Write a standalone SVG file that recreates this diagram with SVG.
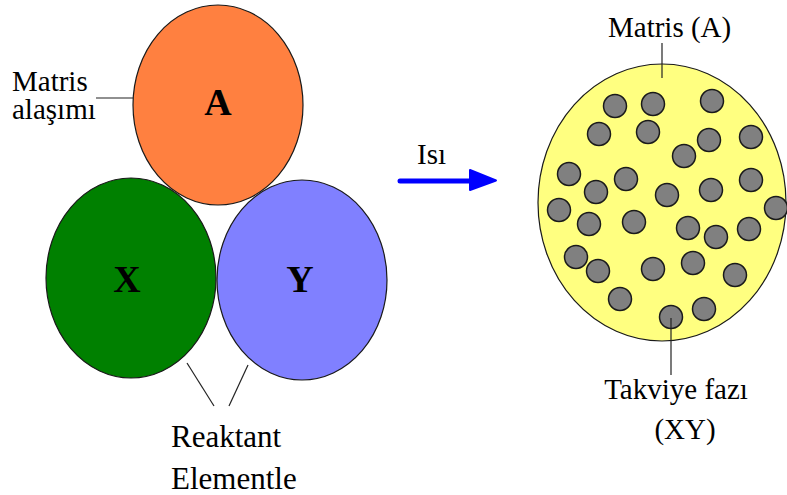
<svg xmlns="http://www.w3.org/2000/svg" width="787" height="495" viewBox="0 0 787 495">
<style>
.blob{stroke:#1a1a1a;stroke-width:1.2}
.lbl{font-family:"Liberation Serif","DejaVu Serif",serif;font-size:29px;fill:#000}
.big{font-family:"Liberation Serif","DejaVu Serif",serif;font-size:38px;font-weight:bold;fill:#000;text-anchor:middle}
.lead{stroke:#222;stroke-width:1.2;fill:none}
.dot{fill:#808080;stroke:#1a1a1a;stroke-width:1.5}
</style>
<rect width="787" height="495" fill="#fff"/>
<g id="node-A">
<ellipse class="blob" cx="218" cy="105" rx="85" ry="100" fill="#FF8040"/>
<text class="big" x="218" y="115">A</text>
</g>
<g id="node-X">
<ellipse class="blob" cx="131" cy="278" rx="85" ry="100" fill="#008000"/>
<text class="big" x="127" y="292">X</text>
</g>
<g id="node-Y">
<ellipse class="blob" cx="302" cy="280" rx="85" ry="100" fill="#8080FF"/>
<text class="big" x="300" y="292">Y</text>
</g>
<g id="label-matris-alasimi">
<text class="lbl" x="12" y="91">Matris</text>
<text class="lbl" x="12" y="119">alaşımı</text>
</g>
<g id="label-reaktant">
<text class="lbl" x="171" y="447" style="font-size:31px">Reaktant</text>
<text class="lbl" x="171" y="489" style="font-size:31px">Elementle</text>
</g>
<g id="node-composite">
<ellipse class="blob" cx="662" cy="202.5" rx="124" ry="138.5" fill="#FFFF80"/>
<g id="particles">
<circle class="dot" cx="615" cy="106" r="11.5"/>
<circle class="dot" cx="653" cy="104" r="11.5"/>
<circle class="dot" cx="712" cy="101" r="11.5"/>
<circle class="dot" cx="599" cy="134" r="11.5"/>
<circle class="dot" cx="648" cy="132" r="11.5"/>
<circle class="dot" cx="709" cy="140" r="11.5"/>
<circle class="dot" cx="751" cy="137" r="11.5"/>
<circle class="dot" cx="684" cy="156" r="11.5"/>
<circle class="dot" cx="569" cy="174" r="11.5"/>
<circle class="dot" cx="626" cy="179" r="11.5"/>
<circle class="dot" cx="596" cy="192" r="11.5"/>
<circle class="dot" cx="667" cy="195" r="11.5"/>
<circle class="dot" cx="711" cy="190" r="11.5"/>
<circle class="dot" cx="751" cy="180" r="11.5"/>
<circle class="dot" cx="776" cy="208" r="11.5"/>
<circle class="dot" cx="559" cy="210" r="11.5"/>
<circle class="dot" cx="589" cy="224" r="11.5"/>
<circle class="dot" cx="634" cy="222" r="11.5"/>
<circle class="dot" cx="688" cy="228" r="11.5"/>
<circle class="dot" cx="716" cy="237" r="11.5"/>
<circle class="dot" cx="749" cy="229" r="11.5"/>
<circle class="dot" cx="576" cy="257" r="11.5"/>
<circle class="dot" cx="598" cy="271" r="11.5"/>
<circle class="dot" cx="653" cy="269" r="11.5"/>
<circle class="dot" cx="693" cy="263" r="11.5"/>
<circle class="dot" cx="735" cy="275" r="11.5"/>
<circle class="dot" cx="620" cy="299" r="11.5"/>
<circle class="dot" cx="671" cy="317" r="11.5"/>
<circle class="dot" cx="704" cy="309" r="11.5"/>
</g>
</g>
<g id="label-matris-a">
<text class="lbl" x="608" y="37">Matris (A)</text>
</g>
<g id="label-takviye">
<text class="lbl" x="676" y="399" text-anchor="middle">Takviye fazı</text>
<text class="lbl" x="685" y="439" text-anchor="middle">(XY)</text>
</g>
<g id="label-isi">
<text class="lbl" x="417" y="164">Isı</text>
</g>
<g id="connectors">
<line class="lead" x1="96" y1="98" x2="133" y2="98"/>
<line class="lead" x1="187" y1="363" x2="214" y2="406"/>
<line class="lead" x1="248" y1="365" x2="229" y2="406"/>
<line class="lead" x1="662" y1="43" x2="662" y2="78"/>
<line class="lead" x1="671" y1="318" x2="671" y2="375"/>
<line x1="400" y1="181" x2="474" y2="181" stroke="#0000FF" stroke-width="5" stroke-linecap="round"/>
<path d="M470 170 L496 180.5 L470 190 Z" fill="#0000FF" stroke="#0000FF" stroke-width="2" stroke-linejoin="round"/>
</g>
</svg>
